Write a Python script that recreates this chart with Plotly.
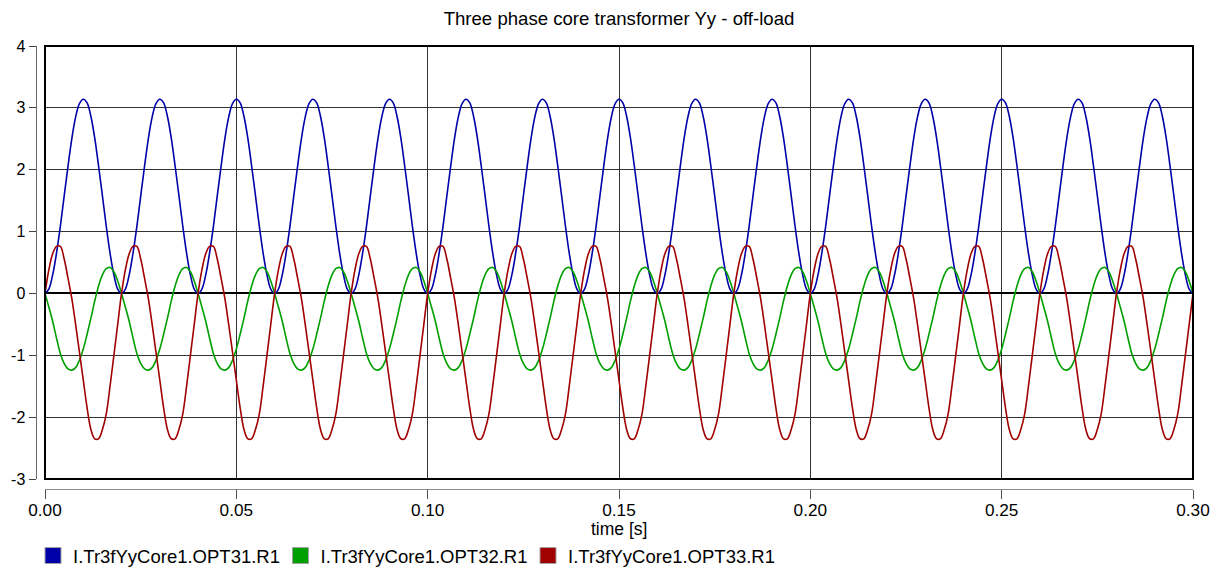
import plotly.graph_objects as go

# ---- data (one 50 Hz cycle, 1 ms steps, repeated 15 cycles) ----
cycle_ms = list(range(20))
n_cycles = 15
blue_cycle = [0.00, 0.07, 0.30, 0.65, 1.08, 1.57, 2.05, 2.50, 2.85, 3.07,
              3.14, 3.08, 2.86, 2.51, 2.06, 1.58, 1.09, 0.65, 0.30, 0.07]
green_cycle = [0.00, -0.22, -0.45, -0.72, -0.97, -1.13, -1.22, -1.24, -1.20, -1.08,
               -0.90, -0.66, -0.40, -0.12, 0.12, 0.30, 0.40, 0.42, 0.35, 0.20]
red_cycle = [0.00, 0.38, 0.64, 0.76, 0.76, 0.56, 0.25, -0.08, -0.50, -0.95,
             -1.40, -1.85, -2.20, -2.35, -2.35, -2.20, -1.95, -1.50, -1.00, -0.50]
series_names = ["I.Tr3fYyCore1.OPT31.R1", "I.Tr3fYyCore1.OPT32.R1", "I.Tr3fYyCore1.OPT33.R1"]
series_colors = ["#0000a8", "#009f00", "#a00000"]
x_ticks = [0.00, 0.05, 0.10, 0.15, 0.20, 0.25, 0.30]
y_ticks = [-3, -2, -1, 0, 1, 2, 3, 4]
title_text = "Three phase core transformer Yy - off-load"
x_title = "time [s]"

t = [(c * 20 + k) / 1000 for c in range(n_cycles) for k in cycle_ms] + [0.3]
blue = blue_cycle * n_cycles + [blue_cycle[0]]
green = green_cycle * n_cycles + [green_cycle[0]]
red = red_cycle * n_cycles + [red_cycle[0]]

FONT = "Liberation Sans, Arial, sans-serif"

fig = go.Figure()
for name, ys, col in zip(series_names, [blue, green, red], series_colors):
    fig.add_trace(go.Scatter(x=t, y=ys, mode="lines", name=name,
                             line=dict(color=col, width=1.6, shape="spline", smoothing=1),
                             showlegend=False, hoverinfo="skip"))
for name, col in zip(series_names, series_colors):
    fig.add_trace(go.Scatter(x=[None], y=[None], mode="markers", name=name,
                             marker=dict(symbol="square", size=16, color=col,
                                         line=dict(color="#a0a0a0", width=1))))

# geometry
W, H = 1223, 567
ml, mr, mt, mb = 20, 20, 40, 70
pw, ph = W - ml - mr, H - mt - mb
px = lambda v: (v - ml) / pw
py = lambda v: (H - mb - v) / ph

fig.update_layout(
    width=W, height=H,
    margin=dict(l=ml, r=mr, t=mt, b=mb, autoexpand=False),
    paper_bgcolor="white", plot_bgcolor="white",
    font=dict(family=FONT, color="#000000", size=18),
    title=dict(text=title_text, x=619 / W, xref="container", xanchor="center",
               y=1 - 18 / H, yref="container", yanchor="middle",
               font=dict(size=18.6, color="#000000")),
    xaxis=dict(domain=[px(45), px(1193)], range=[0, 0.3], anchor="free", position=py(489),
               tickvals=x_ticks, ticktext=[f"{v:.2f}" for v in x_ticks],
               showline=True, linecolor="#8a8a8a", linewidth=1,
               ticks="outside", ticklen=9, tickcolor="#505050", tickwidth=1,
               tickfont=dict(size=17.2), ticklabelstandoff=-4,
               showgrid=True, gridcolor="#333333", gridwidth=1, zeroline=False,
               automargin=False, fixedrange=True),
    yaxis=dict(domain=[py(479), py(46)], range=[-3, 4], anchor="free", position=px(35.5),
               tickvals=y_ticks, ticktext=[str(v) for v in y_ticks],
               showline=True, linecolor="#6a6a6a", linewidth=1,
               ticks="outside", ticklen=7, tickcolor="#404040", tickwidth=1,
               tickfont=dict(size=16),
               showgrid=True, gridcolor="#333333", gridwidth=1,
               zeroline=True, zerolinecolor="#000000", zerolinewidth=2,
               automargin=False, fixedrange=True),
    legend=dict(orientation="h", x=px(33), xanchor="left", y=py(556), yanchor="middle",
                font=dict(size=18.5), bgcolor="rgba(0,0,0,0)", entrywidth=202.5,
                itemwidth=30, traceorder="normal"),
    showlegend=True,
)
fig.add_annotation(text=x_title, xref="x domain", x=0.5, yref="paper", y=py(529),
                   xanchor="center", yanchor="middle", showarrow=False,
                   font=dict(size=17.5, color="#000000"))
fig.add_shape(type="rect", xref="x domain", yref="y domain", x0=0, x1=1, y0=0, y1=1,
              line=dict(color="#000000", width=2), layer="above")

fig.write_html("out.html")
